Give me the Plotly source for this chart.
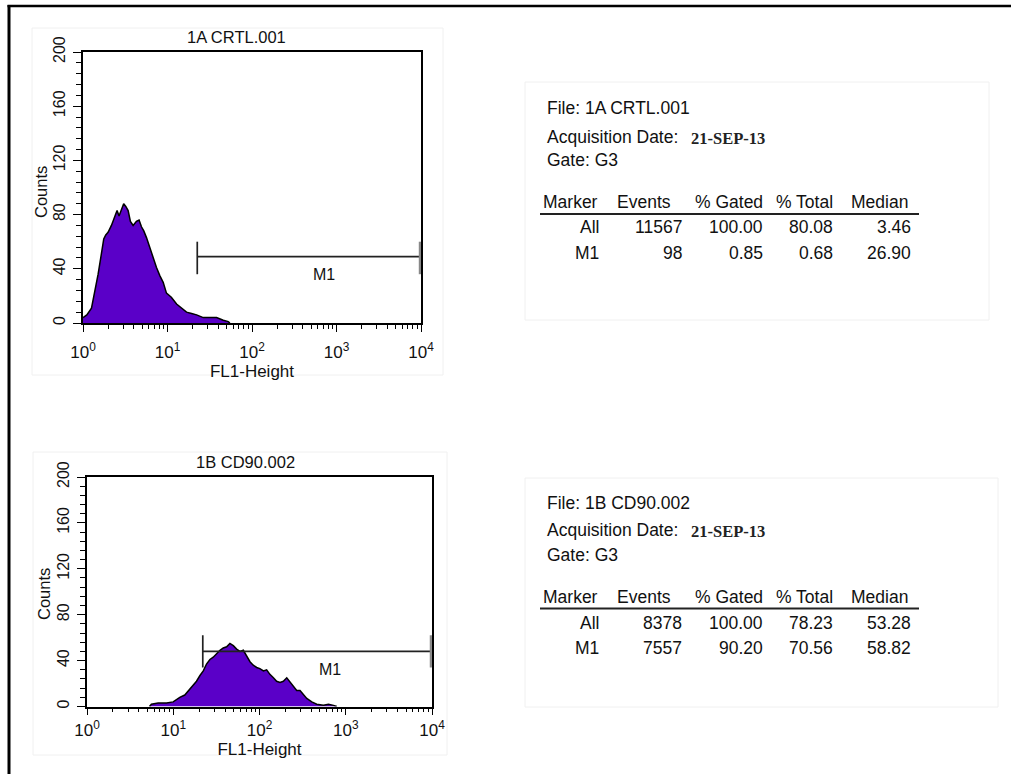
import math
import plotly.graph_objects as go

W, H = 1011, 774

# ---------------- data ----------------
top_title = "1A CRTL.001"
bot_title = "1B CD90.002"
x_title = "FL1-Height"
y_title = "Counts"

# FL1-Height channel values and counts
top_fl1 = [1.0, 1.11, 1.26, 1.37, 1.51, 1.65, 1.76, 1.86, 1.98, 2.17,
           2.37, 2.53, 2.67, 2.85, 3.03, 3.21, 3.42, 3.64, 3.92, 4.29,
           4.61, 4.92, 5.24, 5.64, 6.18, 6.76, 7.41, 8.11, 8.89, 9.72,
           11.1, 12.8, 14.7, 16.8, 19.3, 22.1, 26.5, 31.8, 38.1, 45.7,
           52.4, 54.8]
top_counts = [4, 6, 11, 22, 36, 51, 62, 65, 67, 72,
              78, 83, 79, 84, 88, 86, 83, 75, 72, 75,
              76, 71, 68, 63, 55, 49, 41, 35, 30, 22,
              19, 14, 11, 8, 7, 6, 4, 4, 4, 2,
              1, 0]

bot_fl1 = [5.3, 5.58, 6.68, 8.36, 9.98, 11.9, 13.6, 15.6, 17.0, 18.6, 20.4,
           22.3, 24.3, 26.6, 29.1, 31.8, 34.8, 38.0, 41.6, 45.4, 49.7,
           54.3, 59.3, 64.9, 71.0, 77.6, 84.7, 92.7, 101, 111, 121,
           132, 145, 158, 173, 189, 207, 226, 247, 270, 295,
           323, 353, 404, 461, 551, 631, 721, 787]
bot_counts = [0, 2, 3, 3, 4, 8, 10, 15, 19, 22, 27,
              31, 37, 41, 43, 46, 49, 51, 52, 55, 53,
              50, 48, 49, 44, 39, 36, 34, 33, 31, 32,
              28, 25, 22, 21, 22, 25, 21, 18, 14, 14,
              10, 7, 4, 2, 1, 2, 1, 0]

# M1 marker gates: [low, high] FL1 values, bar count level, tick span, label position
top_m1 = dict(lo=22.5, hi=9700, level=49, span=(36, 60), label=(705, 36))
bot_m1 = dict(lo=22.0, hi=9700, level=48, span=(34, 62), label=(660, 32.5))

x_major = [1, 10, 100, 1000, 10000]
x_major_text = ["10<sup>0</sup>", "10<sup>1</sup>", "10<sup>2</sup>", "10<sup>3</sup>", "10<sup>4</sup>"]
y_major = [0, 40, 80, 120, 160, 200]

# Statistics tables
tbl_headers = ["Marker", "Events", "% Gated", "% Total", "Median"]
top_info = ["File: 1A CRTL.001", "Acquisition Date: ", "21-SEP-13", "Gate: G3"]
top_rows = [["All", "11567", "100.00", "80.08", "3.46"],
            ["M1", "98", "0.85", "0.68", "26.90"]]
bot_info = ["File: 1B CD90.002", "Acquisition Date: ", "21-SEP-13", "Gate: G3"]
bot_rows = [["All", "8378", "100.00", "78.23", "53.28"],
            ["M1", "7557", "90.20", "70.56", "58.82"]]

# ---------------- styling ----------------
FONT = "Liberation Sans, Arial, sans-serif"
SERIF = "Liberation Serif, Times New Roman, serif"
PURPLE = "#5a00c8"


def px(x):
    return x / W


def py(y):
    return 1 - y / H


x_minor = [m * 10 ** k for k in range(4) for m in range(2, 10)]

fig = go.Figure()


def add_hist(x, y, xa, ya):
    fig.add_trace(go.Scatter(x=x, y=y, mode="lines", fill="tozeroy",
                             fillcolor=PURPLE, line=dict(color="black", width=1.5),
                             xaxis=xa, yaxis=ya, hoverinfo="skip", showlegend=False))


def add_marker(m, xa, ya):
    lo, hi, lev = m["lo"], m["hi"], m["level"]
    s0, s1 = m["span"]
    fig.add_trace(go.Scatter(x=[lo, hi, None, lo, lo], y=[lev, lev, None, s0, s1],
                             mode="lines", line=dict(color="#222", width=1.7),
                             xaxis=xa, yaxis=ya, hoverinfo="skip", showlegend=False))
    fig.add_trace(go.Scatter(x=[hi, hi], y=[s0, s1], mode="lines",
                             line=dict(color="#888", width=2.2),
                             xaxis=xa, yaxis=ya, hoverinfo="skip", showlegend=False))
    fig.add_annotation(xref=xa, yref=ya, x=math.log10(m["label"][0]), y=m["label"][1],
                       xanchor="center", yanchor="middle",
                       text="M1", showarrow=False, font=dict(family=FONT, size=16, color="#111"))


add_hist(top_fl1, top_counts, "x", "y")
add_marker(top_m1, "x", "y")
add_hist(bot_fl1, bot_counts, "x2", "y2")
add_marker(bot_m1, "x2", "y2")


def xcfg(dom, anchor, lbl_off, title_off):
    return dict(domain=dom, anchor=anchor, type="log", range=[0, 4], automargin=False,
                tickmode="array", tickvals=x_major, ticktext=x_major_text,
                ticks="outside", ticklen=7, tickwidth=1.4, tickcolor="black",
                showline=True, linecolor="black", linewidth=1.6, mirror=True,
                showgrid=False, zeroline=False, fixedrange=True,
                minor=dict(tickmode="array", tickvals=x_minor, ticks="outside",
                           ticklen=4, tickwidth=1.2, tickcolor="black", showgrid=False),
                tickfont=dict(family=FONT, size=17, color="#111"),
                ticklabelstandoff=lbl_off,
                title=dict(text=x_title, font=dict(family=FONT, size=17, color="#111"),
                           standoff=title_off))


def ycfg(dom, anchor):
    return dict(domain=dom, anchor=anchor, range=[0, 200], automargin=False,
                tickmode="array", tickvals=y_major, tickangle=-90,
                ticks="outside", ticklen=8, tickwidth=1.4, tickcolor="black",
                showline=True, linecolor="black", linewidth=1.6, mirror=True,
                showgrid=False, zeroline=False, fixedrange=True,
                minor=dict(dtick=8, tick0=0, ticks="outside", ticklen=5,
                           tickwidth=1.2, tickcolor="black", showgrid=False),
                tickfont=dict(family=FONT, size=16, color="#111"),
                ticklabelstandoff=2)


fig.update_layout(
    template="none",
    width=W, height=H, margin=dict(l=0, r=0, t=0, b=0, pad=0), autosize=False,
    paper_bgcolor="white", plot_bgcolor="white", showlegend=False,
    xaxis=xcfg([px(83), px(421)], "y", 6, 0),
    yaxis=ycfg([py(323), py(52)], "x"),
    xaxis2=xcfg([px(87), px(432)], "y2", 0, 0),
    yaxis2=ycfg([py(706.5), py(477)], "x2"),
)

# Plot titles and y-axis titles
TITLE_F = dict(family=FONT, size=16.5, color="#111")
fig.add_annotation(xref="paper", yref="paper", x=px(236), y=py(37), text=top_title,
                   xanchor="center", yanchor="middle", showarrow=False, font=TITLE_F)
fig.add_annotation(xref="paper", yref="paper", x=px(245), y=py(462), text=bot_title,
                   xanchor="center", yanchor="middle", showarrow=False, font=TITLE_F)
fig.add_annotation(xref="paper", yref="paper", x=px(41), y=py(192), text=y_title, textangle=-90,
                   xanchor="center", yanchor="middle", showarrow=False, font=TITLE_F)
fig.add_annotation(xref="paper", yref="paper", x=px(44), y=py(594), text=y_title, textangle=-90,
                   xanchor="center", yanchor="middle", showarrow=False, font=TITLE_F)

shapes = []
# outer frame (left and top edges)
shapes.append(dict(type="line", xref="paper", yref="paper", x0=px(9), x1=px(9), y0=0, y1=py(5),
                   line=dict(color="black", width=3)))
shapes.append(dict(type="line", xref="paper", yref="paper", x0=px(7.5), x1=1, y0=py(6), y1=py(6),
                   line=dict(color="black", width=2.5)))
# faint panels around plots and tables
for (x0, y0, x1, y1) in [(32, 28, 443, 375), (33, 452, 447, 755),
                         (525, 82, 989, 320), (525, 478, 998, 707)]:
    shapes.append(dict(type="rect", xref="paper", yref="paper", layer="below",
                       x0=px(x0), x1=px(x1), y0=py(y0), y1=py(y1),
                       line=dict(color="#f0f0f0", width=1), fillcolor="rgba(0,0,0,0)"))

hdr_right = [600, 673, 765, 835, 910]
val_right = [601, 684, 765, 835, 913]
TF = dict(family=FONT, size=17.5, color="#111")


def add_table(info, rows, y_file, y_acq, y_gate, y_hdr, y_line, y_rows):
    fig.add_annotation(xref="paper", yref="paper", x=px(545), y=py(y_file), text=info[0],
                       xanchor="left", yanchor="middle", showarrow=False, font=TF)
    fig.add_annotation(xref="paper", yref="paper", x=px(545), y=py(y_acq), text=info[1],
                       xanchor="left", yanchor="middle", showarrow=False, font=TF)
    fig.add_annotation(xref="paper", yref="paper", x=px(689), y=py(y_acq + 1), text=info[2],
                       xanchor="left", yanchor="middle", showarrow=False,
                       font=dict(family=SERIF, size=16.5, color="#222", weight="bold"))
    fig.add_annotation(xref="paper", yref="paper", x=px(545), y=py(y_gate), text=info[3],
                       xanchor="left", yanchor="middle", showarrow=False, font=TF)
    for h, xr in zip(tbl_headers, hdr_right):
        fig.add_annotation(xref="paper", yref="paper", x=px(xr), y=py(y_hdr), text=h,
                           xanchor="right", yanchor="middle", showarrow=False, font=TF)
    shapes.append(dict(type="line", xref="paper", yref="paper", x0=px(540), x1=px(919),
                       y0=py(y_line), y1=py(y_line), line=dict(color="#222", width=2)))
    for row, yr in zip(rows, y_rows):
        for v, xr in zip(row, val_right):
            fig.add_annotation(xref="paper", yref="paper", x=px(xr), y=py(yr), text=v,
                               xanchor="right", yanchor="middle", showarrow=False, font=TF)


add_table(top_info, top_rows, 108, 137, 160, 202, 214, [227, 253])
add_table(bot_info, bot_rows, 503, 530, 555, 597, 608.5, [623, 648])

fig.update_layout(shapes=shapes)

fig.write_html("out.html", config={"displayModeBar": False},
               post_script="document.body.style.margin='0';document.body.style.overflow='hidden';")
